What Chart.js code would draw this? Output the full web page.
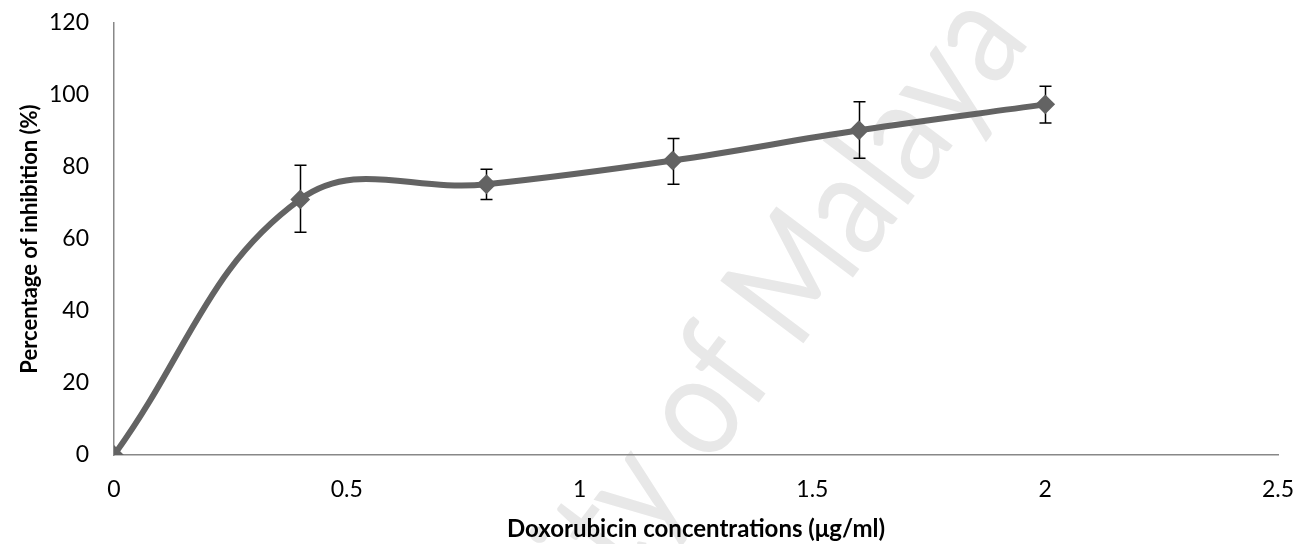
<!DOCTYPE html>
<html>
<head>
<meta charset="utf-8">
<script src="https://cdn.jsdelivr.net/npm/chart.js@4"></script>
<style>
  body { margin: 0; background: #fff; }
</style>
</head>
<body>
<canvas id="chart" width="1299" height="544"></canvas>
<script>
// Datos
const concentrations = [0, 0.4, 0.8, 1.2, 1.6, 2.0];
const inhibition = [0, 71, 75.2, 81.8, 90.2, 97.4];
const errUpper = [0, 9.5, 4.2, 6.1, 7.9, 5.0];
const errLower = [0, 9.1, 4.2, 6.6, 7.8, 5.2];
const xTicks = [0, 0.5, 1, 1.5, 2, 2.5];
const yTicks = [0, 20, 40, 60, 80, 100, 120];

const FONT = "Lato, 'Open Sans', sans-serif";

// Marca de agua de fondo
const watermark = {
  id: "watermark",
  beforeDraw(chart) {
    const ctx = chart.ctx;
    ctx.save();
    ctx.translate(672, 440);
    ctx.rotate(-53 * Math.PI / 180);
    ctx.scale(0.86, 1);
    ctx.font = "145px " + FONT;
    ctx.fillStyle = "#e8e8e8";
    ctx.textBaseline = "middle";
    const pre = "University ";
    ctx.fillText(pre + "of Malaya", -ctx.measureText(pre).width, 0);
    ctx.restore();
  },
};

// Barras de error
const errorBars = {
  id: "errorBars",
  beforeDatasetsDraw(chart) {
    const ctx = chart.ctx;
    const xs = chart.scales.x;
    const ys = chart.scales.y;
    ctx.save();
    ctx.strokeStyle = "#000";
    ctx.lineWidth = 1.5;
    concentrations.forEach((c, i) => {
      if (!errUpper[i] && !errLower[i]) return;
      const px = Math.round(xs.getPixelForValue(c)) + 0.5;
      const top = ys.getPixelForValue(inhibition[i] + errUpper[i]);
      const bot = ys.getPixelForValue(inhibition[i] - errLower[i]);
      ctx.beginPath();
      ctx.moveTo(px, top);
      ctx.lineTo(px, bot);
      ctx.moveTo(px - 6, top);
      ctx.lineTo(px + 6, top);
      ctx.moveTo(px - 6, bot);
      ctx.lineTo(px + 6, bot);
      ctx.stroke();
    });
    ctx.restore();
  },
};

const ctx = document.getElementById("chart").getContext("2d");

const chart = new Chart(ctx, {
  type: "line",
  data: {
    datasets: [
      {
        data: concentrations.map((c, i) => ({ x: c, y: inhibition[i] })),
        borderColor: "#636363",
        backgroundColor: "#636363",
        borderWidth: 6,
        tension: 0.4,
        pointStyle: "rectRot",
        pointRadius: 8.5,
        pointBorderWidth: 2,
        pointBorderColor: "#636363",
        pointBackgroundColor: "#636363",
      },
    ],
  },
  options: {
    responsive: false,
    animation: false,
    layout: { padding: { top: 23, right: 21, left: 0, bottom: 0 } },
    plugins: { legend: { display: false }, tooltip: { enabled: false } },
    scales: {
      x: {
        type: "linear",
        min: 0,
        max: 2.5,
        afterBuildTicks: (s) => { s.ticks = xTicks.map((v) => ({ value: v })); },
        afterFit: (s) => {
          s.height = 89;
          // que el area la fije solo layout.padding
          s.paddingLeft = 0;
          s.paddingRight = 0;
        },
        grid: { display: false, drawTicks: false },
        border: { display: true, color: "#888", width: 1.5 },
        ticks: {
          color: "#000",
          font: { family: FONT, size: 23 },
          padding: 21,
          callback: (v) => String(v),
        },
        title: {
          display: true,
          text: "Doxorubicin concentrations (μg/ml)",
          color: "#000",
          font: { family: FONT, size: 24, weight: "bold" },
          padding: { top: 0, bottom: 0 },
        },
      },
      y: {
        min: 0,
        max: 120,
        afterBuildTicks: (s) => { s.ticks = yTicks.map((v) => ({ value: v })); },
        afterFit: (s) => {
          s.width = 114;
          s.paddingTop = 0;
          s.paddingBottom = 0;
        },
        grid: { display: false, drawTicks: false },
        border: { display: true, color: "#888", width: 1.5 },
        ticks: {
          color: "#000",
          font: { family: FONT, size: 23 },
          padding: 25,
          callback: (v) => String(v),
        },
        title: {
          display: true,
          text: "Percentage of inhibition (%)",
          color: "#000",
          font: { family: FONT, size: 22, weight: "bold" },
          padding: { top: 17, bottom: 0 },
        },
      },
    },
  },
  plugins: [watermark, errorBars],
});
</script>
</body>
</html>
